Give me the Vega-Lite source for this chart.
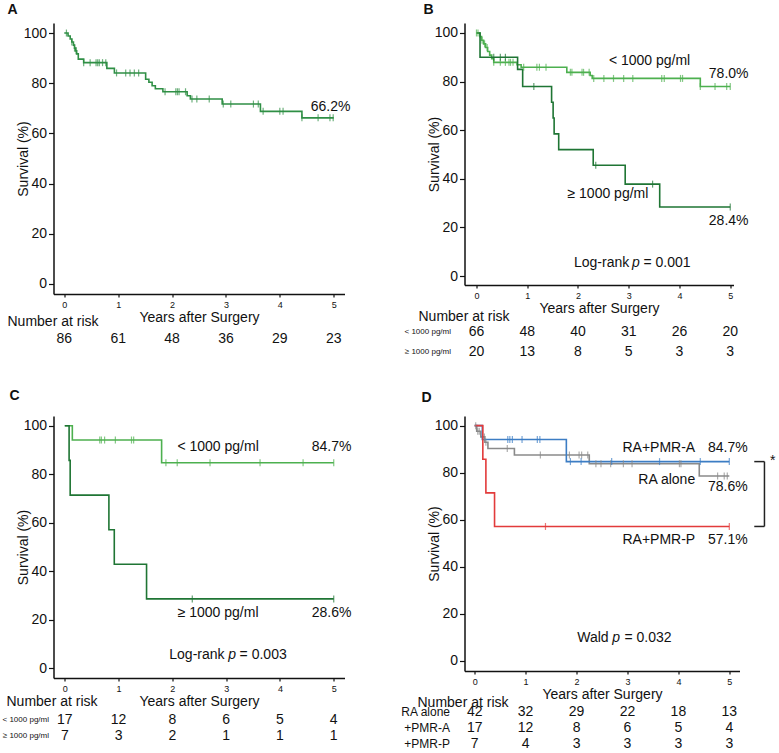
{
  "$schema": "https://vega.github.io/schema/vega-lite/v6.json",
  "padding": {"left": 1.5, "top": 3, "right": 0, "bottom": 0},
  "background": "white",
  "config": {
    "view": {"stroke": null},
    "font": "Liberation Sans",
    "text": {"font": "Liberation Sans", "fontSize": 14, "color": "#111"},
    "title": {"font": "Liberation Sans", "color": "#111"},
    "axis": {"grid": false, "domainColor": "#111", "domainWidth": 1.5, "tickColor": "#111", "tickWidth": 1.2, "labelColor": "#111", "titleColor": "#111", "labelFont": "Liberation Sans", "titleFont": "Liberation Sans", "titleFontWeight": "normal", "titleFontSize": 14}
  },
  "datasets": {
    "steps": [
      {"panel": "A", "group": "all", "t": 0, "s": 100}, {"panel": "A", "group": "all", "t": 0.07, "s": 98.8}, {"panel": "A", "group": "all", "t": 0.11, "s": 97.6}, {"panel": "A", "group": "all", "t": 0.14, "s": 96.4}, {"panel": "A", "group": "all", "t": 0.17, "s": 95.2}, {"panel": "A", "group": "all", "t": 0.19, "s": 94.0}, {"panel": "A", "group": "all", "t": 0.21, "s": 92.9}, {"panel": "A", "group": "all", "t": 0.23, "s": 91.7}, {"panel": "A", "group": "all", "t": 0.26, "s": 89.6}, {"panel": "A", "group": "all", "t": 0.36, "s": 88.2}, {"panel": "A", "group": "all", "t": 0.79, "s": 85.9}, {"panel": "A", "group": "all", "t": 0.93, "s": 84.1}, {"panel": "A", "group": "all", "t": 1.51, "s": 81.6}, {"panel": "A", "group": "all", "t": 1.57, "s": 80.4}, {"panel": "A", "group": "all", "t": 1.63, "s": 79.0}, {"panel": "A", "group": "all", "t": 1.69, "s": 77.8}, {"panel": "A", "group": "all", "t": 1.83, "s": 76.6}, {"panel": "A", "group": "all", "t": 2.28, "s": 75.0}, {"panel": "A", "group": "all", "t": 2.34, "s": 73.7}, {"panel": "A", "group": "all", "t": 2.93, "s": 71.7}, {"panel": "A", "group": "all", "t": 3.64, "s": 68.8}, {"panel": "A", "group": "all", "t": 4.41, "s": 66.2}, {"panel": "A", "group": "all", "t": 5.0, "s": 66.2},
      {"panel": "B", "group": "< 1000 pg/ml", "t": 0, "s": 100}, {"panel": "B", "group": "< 1000 pg/ml", "t": 0.07, "s": 98.5}, {"panel": "B", "group": "< 1000 pg/ml", "t": 0.10, "s": 97.0}, {"panel": "B", "group": "< 1000 pg/ml", "t": 0.14, "s": 95.5}, {"panel": "B", "group": "< 1000 pg/ml", "t": 0.18, "s": 94.0}, {"panel": "B", "group": "< 1000 pg/ml", "t": 0.22, "s": 92.4}, {"panel": "B", "group": "< 1000 pg/ml", "t": 0.26, "s": 90.9}, {"panel": "B", "group": "< 1000 pg/ml", "t": 0.30, "s": 89.4}, {"panel": "B", "group": "< 1000 pg/ml", "t": 0.34, "s": 87.9}, {"panel": "B", "group": "< 1000 pg/ml", "t": 0.80, "s": 86.9}, {"panel": "B", "group": "< 1000 pg/ml", "t": 0.88, "s": 85.9}, {"panel": "B", "group": "< 1000 pg/ml", "t": 1.78, "s": 83.8}, {"panel": "B", "group": "< 1000 pg/ml", "t": 2.24, "s": 82.5}, {"panel": "B", "group": "< 1000 pg/ml", "t": 2.28, "s": 81.3}, {"panel": "B", "group": "< 1000 pg/ml", "t": 4.41, "s": 78.0}, {"panel": "B", "group": "< 1000 pg/ml", "t": 5.0, "s": 78.0},
      {"panel": "B", "group": "≥ 1000 pg/ml", "t": 0, "s": 100}, {"panel": "B", "group": "≥ 1000 pg/ml", "t": 0.07, "s": 90}, {"panel": "B", "group": "≥ 1000 pg/ml", "t": 0.81, "s": 85}, {"panel": "B", "group": "≥ 1000 pg/ml", "t": 0.91, "s": 78}, {"panel": "B", "group": "≥ 1000 pg/ml", "t": 1.48, "s": 71.5}, {"panel": "B", "group": "≥ 1000 pg/ml", "t": 1.51, "s": 65}, {"panel": "B", "group": "≥ 1000 pg/ml", "t": 1.53, "s": 58.5}, {"panel": "B", "group": "≥ 1000 pg/ml", "t": 1.62, "s": 52}, {"panel": "B", "group": "≥ 1000 pg/ml", "t": 2.30, "s": 45.6}, {"panel": "B", "group": "≥ 1000 pg/ml", "t": 2.93, "s": 37.8}, {"panel": "B", "group": "≥ 1000 pg/ml", "t": 3.61, "s": 28.4}, {"panel": "B", "group": "≥ 1000 pg/ml", "t": 5.0, "s": 28.4},
      {"panel": "C", "group": "< 1000 pg/ml", "t": 0, "s": 100}, {"panel": "C", "group": "< 1000 pg/ml", "t": 0.14, "s": 94.1}, {"panel": "C", "group": "< 1000 pg/ml", "t": 1.80, "s": 84.7}, {"panel": "C", "group": "< 1000 pg/ml", "t": 5.0, "s": 84.7},
      {"panel": "C", "group": "≥ 1000 pg/ml", "t": 0, "s": 100}, {"panel": "C", "group": "≥ 1000 pg/ml", "t": 0.08, "s": 85.7}, {"panel": "C", "group": "≥ 1000 pg/ml", "t": 0.10, "s": 71.4}, {"panel": "C", "group": "≥ 1000 pg/ml", "t": 0.82, "s": 57.1}, {"panel": "C", "group": "≥ 1000 pg/ml", "t": 0.92, "s": 42.9}, {"panel": "C", "group": "≥ 1000 pg/ml", "t": 1.52, "s": 28.6}, {"panel": "C", "group": "≥ 1000 pg/ml", "t": 5.0, "s": 28.6},
      {"panel": "D", "group": "RA alone", "t": 0, "s": 100}, {"panel": "D", "group": "RA alone", "t": 0.04, "s": 97.6}, {"panel": "D", "group": "RA alone", "t": 0.12, "s": 95.2}, {"panel": "D", "group": "RA alone", "t": 0.20, "s": 92.9}, {"panel": "D", "group": "RA alone", "t": 0.26, "s": 90.3}, {"panel": "D", "group": "RA alone", "t": 0.78, "s": 87.5}, {"panel": "D", "group": "RA alone", "t": 2.25, "s": 83.8}, {"panel": "D", "group": "RA alone", "t": 4.41, "s": 78.6}, {"panel": "D", "group": "RA alone", "t": 5.0, "s": 78.6},
      {"panel": "D", "group": "+PMR-A", "t": 0, "s": 100}, {"panel": "D", "group": "+PMR-A", "t": 0.15, "s": 94.1}, {"panel": "D", "group": "+PMR-A", "t": 1.80, "s": 84.7}, {"panel": "D", "group": "+PMR-A", "t": 5.0, "s": 84.7},
      {"panel": "D", "group": "+PMR-P", "t": 0, "s": 100}, {"panel": "D", "group": "+PMR-P", "t": 0.16, "s": 85.7}, {"panel": "D", "group": "+PMR-P", "t": 0.22, "s": 71.4}, {"panel": "D", "group": "+PMR-P", "t": 0.39, "s": 57.1}, {"panel": "D", "group": "+PMR-P", "t": 5.0, "s": 57.1}
    ],
    "censors": [
      {"panel": "A", "group": "all", "t": 0.04, "s": 100}, {"panel": "A", "group": "all", "t": 0.14, "s": 96.4}, {"panel": "A", "group": "all", "t": 0.19, "s": 94.0}, {"panel": "A", "group": "all", "t": 0.22, "s": 92.9}, {"panel": "A", "group": "all", "t": 0.36, "s": 88.2}, {"panel": "A", "group": "all", "t": 0.48, "s": 88.2}, {"panel": "A", "group": "all", "t": 0.59, "s": 88.2}, {"panel": "A", "group": "all", "t": 0.62, "s": 88.2}, {"panel": "A", "group": "all", "t": 0.65, "s": 88.2}, {"panel": "A", "group": "all", "t": 0.71, "s": 88.2}, {"panel": "A", "group": "all", "t": 0.77, "s": 88.2}, {"panel": "A", "group": "all", "t": 0.97, "s": 84.1}, {"panel": "A", "group": "all", "t": 1.14, "s": 84.1}, {"panel": "A", "group": "all", "t": 1.22, "s": 84.1}, {"panel": "A", "group": "all", "t": 1.30, "s": 84.1}, {"panel": "A", "group": "all", "t": 1.38, "s": 84.1}, {"panel": "A", "group": "all", "t": 1.87, "s": 76.6}, {"panel": "A", "group": "all", "t": 2.07, "s": 76.6}, {"panel": "A", "group": "all", "t": 2.10, "s": 76.6}, {"panel": "A", "group": "all", "t": 2.13, "s": 76.6}, {"panel": "A", "group": "all", "t": 2.25, "s": 76.6}, {"panel": "A", "group": "all", "t": 2.37, "s": 73.7}, {"panel": "A", "group": "all", "t": 2.46, "s": 73.7}, {"panel": "A", "group": "all", "t": 2.69, "s": 73.7}, {"panel": "A", "group": "all", "t": 2.95, "s": 71.7}, {"panel": "A", "group": "all", "t": 3.09, "s": 71.7}, {"panel": "A", "group": "all", "t": 3.51, "s": 71.7}, {"panel": "A", "group": "all", "t": 3.60, "s": 71.7}, {"panel": "A", "group": "all", "t": 3.69, "s": 68.8}, {"panel": "A", "group": "all", "t": 4.00, "s": 68.8}, {"panel": "A", "group": "all", "t": 4.06, "s": 68.8}, {"panel": "A", "group": "all", "t": 4.41, "s": 66.2}, {"panel": "A", "group": "all", "t": 4.71, "s": 66.2}, {"panel": "A", "group": "all", "t": 4.93, "s": 66.2}, {"panel": "A", "group": "all", "t": 4.99, "s": 66.2},
      {"panel": "B", "group": "< 1000 pg/ml", "t": 0.0, "s": 100}, {"panel": "B", "group": "< 1000 pg/ml", "t": 0.03, "s": 100}, {"panel": "B", "group": "< 1000 pg/ml", "t": 0.11, "s": 97.0}, {"panel": "B", "group": "< 1000 pg/ml", "t": 0.16, "s": 95.5}, {"panel": "B", "group": "< 1000 pg/ml", "t": 0.21, "s": 94.0}, {"panel": "B", "group": "< 1000 pg/ml", "t": 0.34, "s": 87.9}, {"panel": "B", "group": "< 1000 pg/ml", "t": 0.47, "s": 87.9}, {"panel": "B", "group": "< 1000 pg/ml", "t": 0.57, "s": 87.9}, {"panel": "B", "group": "< 1000 pg/ml", "t": 0.64, "s": 87.9}, {"panel": "B", "group": "< 1000 pg/ml", "t": 0.67, "s": 87.9}, {"panel": "B", "group": "< 1000 pg/ml", "t": 0.72, "s": 87.9}, {"panel": "B", "group": "< 1000 pg/ml", "t": 0.93, "s": 85.9}, {"panel": "B", "group": "< 1000 pg/ml", "t": 1.19, "s": 85.9}, {"panel": "B", "group": "< 1000 pg/ml", "t": 1.24, "s": 85.9}, {"panel": "B", "group": "< 1000 pg/ml", "t": 1.37, "s": 85.9}, {"panel": "B", "group": "< 1000 pg/ml", "t": 1.85, "s": 83.8}, {"panel": "B", "group": "< 1000 pg/ml", "t": 1.88, "s": 83.8}, {"panel": "B", "group": "< 1000 pg/ml", "t": 2.08, "s": 83.8}, {"panel": "B", "group": "< 1000 pg/ml", "t": 2.11, "s": 83.8}, {"panel": "B", "group": "< 1000 pg/ml", "t": 2.22, "s": 83.8}, {"panel": "B", "group": "< 1000 pg/ml", "t": 2.31, "s": 81.3}, {"panel": "B", "group": "< 1000 pg/ml", "t": 2.51, "s": 81.3}, {"panel": "B", "group": "< 1000 pg/ml", "t": 2.70, "s": 81.3}, {"panel": "B", "group": "< 1000 pg/ml", "t": 2.90, "s": 81.3}, {"panel": "B", "group": "< 1000 pg/ml", "t": 3.08, "s": 81.3}, {"panel": "B", "group": "< 1000 pg/ml", "t": 3.65, "s": 81.3}, {"panel": "B", "group": "< 1000 pg/ml", "t": 3.70, "s": 81.3}, {"panel": "B", "group": "< 1000 pg/ml", "t": 4.02, "s": 81.3}, {"panel": "B", "group": "< 1000 pg/ml", "t": 4.06, "s": 81.3}, {"panel": "B", "group": "< 1000 pg/ml", "t": 4.41, "s": 78.0}, {"panel": "B", "group": "< 1000 pg/ml", "t": 4.70, "s": 78.0}, {"panel": "B", "group": "< 1000 pg/ml", "t": 4.93, "s": 78.0}, {"panel": "B", "group": "< 1000 pg/ml", "t": 5.0, "s": 78.0},
      {"panel": "B", "group": "≥ 1000 pg/ml", "t": 0.34, "s": 90}, {"panel": "B", "group": "≥ 1000 pg/ml", "t": 0.47, "s": 90}, {"panel": "B", "group": "≥ 1000 pg/ml", "t": 0.57, "s": 90}, {"panel": "B", "group": "≥ 1000 pg/ml", "t": 1.13, "s": 78}, {"panel": "B", "group": "≥ 1000 pg/ml", "t": 2.35, "s": 45.6}, {"panel": "B", "group": "≥ 1000 pg/ml", "t": 3.47, "s": 37.8}, {"panel": "B", "group": "≥ 1000 pg/ml", "t": 5.0, "s": 28.4},
      {"panel": "C", "group": "< 1000 pg/ml", "t": 0.65, "s": 94.1}, {"panel": "C", "group": "< 1000 pg/ml", "t": 0.68, "s": 94.1}, {"panel": "C", "group": "< 1000 pg/ml", "t": 0.74, "s": 94.1}, {"panel": "C", "group": "< 1000 pg/ml", "t": 0.94, "s": 94.1}, {"panel": "C", "group": "< 1000 pg/ml", "t": 1.24, "s": 94.1}, {"panel": "C", "group": "< 1000 pg/ml", "t": 1.28, "s": 94.1}, {"panel": "C", "group": "< 1000 pg/ml", "t": 1.88, "s": 84.7}, {"panel": "C", "group": "< 1000 pg/ml", "t": 2.09, "s": 84.7}, {"panel": "C", "group": "< 1000 pg/ml", "t": 2.70, "s": 84.7}, {"panel": "C", "group": "< 1000 pg/ml", "t": 3.63, "s": 84.7}, {"panel": "C", "group": "< 1000 pg/ml", "t": 4.43, "s": 84.7}, {"panel": "C", "group": "< 1000 pg/ml", "t": 5.0, "s": 84.7},
      {"panel": "C", "group": "≥ 1000 pg/ml", "t": 2.37, "s": 28.6}, {"panel": "C", "group": "≥ 1000 pg/ml", "t": 5.0, "s": 28.6},
      {"panel": "D", "group": "RA alone", "t": 0.02, "s": 100}, {"panel": "D", "group": "RA alone", "t": 0.06, "s": 97.6}, {"panel": "D", "group": "RA alone", "t": 0.09, "s": 97.6}, {"panel": "D", "group": "RA alone", "t": 0.19, "s": 95.2}, {"panel": "D", "group": "RA alone", "t": 0.22, "s": 92.9}, {"panel": "D", "group": "RA alone", "t": 0.64, "s": 90.3}, {"panel": "D", "group": "RA alone", "t": 1.29, "s": 87.5}, {"panel": "D", "group": "RA alone", "t": 1.86, "s": 87.5}, {"panel": "D", "group": "RA alone", "t": 2.05, "s": 87.5}, {"panel": "D", "group": "RA alone", "t": 2.10, "s": 87.5}, {"panel": "D", "group": "RA alone", "t": 2.22, "s": 87.5}, {"panel": "D", "group": "RA alone", "t": 2.38, "s": 83.8}, {"panel": "D", "group": "RA alone", "t": 2.48, "s": 83.8}, {"panel": "D", "group": "RA alone", "t": 2.67, "s": 83.8}, {"panel": "D", "group": "RA alone", "t": 2.92, "s": 83.8}, {"panel": "D", "group": "RA alone", "t": 3.09, "s": 83.8}, {"panel": "D", "group": "RA alone", "t": 4.02, "s": 83.8}, {"panel": "D", "group": "RA alone", "t": 4.05, "s": 83.8}, {"panel": "D", "group": "RA alone", "t": 4.77, "s": 78.6}, {"panel": "D", "group": "RA alone", "t": 4.90, "s": 78.6}, {"panel": "D", "group": "RA alone", "t": 4.96, "s": 78.6},
      {"panel": "D", "group": "+PMR-A", "t": 0.65, "s": 94.1}, {"panel": "D", "group": "+PMR-A", "t": 0.69, "s": 94.1}, {"panel": "D", "group": "+PMR-A", "t": 0.74, "s": 94.1}, {"panel": "D", "group": "+PMR-A", "t": 0.93, "s": 94.1}, {"panel": "D", "group": "+PMR-A", "t": 1.23, "s": 94.1}, {"panel": "D", "group": "+PMR-A", "t": 1.28, "s": 94.1}, {"panel": "D", "group": "+PMR-A", "t": 1.88, "s": 84.7}, {"panel": "D", "group": "+PMR-A", "t": 2.09, "s": 84.7}, {"panel": "D", "group": "+PMR-A", "t": 2.69, "s": 84.7}, {"panel": "D", "group": "+PMR-A", "t": 3.63, "s": 84.7}, {"panel": "D", "group": "+PMR-A", "t": 4.43, "s": 84.7}, {"panel": "D", "group": "+PMR-A", "t": 5.0, "s": 84.7},
      {"panel": "D", "group": "+PMR-P", "t": 1.39, "s": 57.1}, {"panel": "D", "group": "+PMR-P", "t": 5.0, "s": 57.1}
    ],
    "risk": [
      {"panel": "A", "group": "all", "t": 0, "n": 86}, {"panel": "A", "group": "all", "t": 1, "n": 61}, {"panel": "A", "group": "all", "t": 2, "n": 48}, {"panel": "A", "group": "all", "t": 3, "n": 36}, {"panel": "A", "group": "all", "t": 4, "n": 29}, {"panel": "A", "group": "all", "t": 5, "n": 23},
      {"panel": "B", "group": "< 1000 pg/ml", "t": 0, "n": 66}, {"panel": "B", "group": "< 1000 pg/ml", "t": 1, "n": 48}, {"panel": "B", "group": "< 1000 pg/ml", "t": 2, "n": 40}, {"panel": "B", "group": "< 1000 pg/ml", "t": 3, "n": 31}, {"panel": "B", "group": "< 1000 pg/ml", "t": 4, "n": 26}, {"panel": "B", "group": "< 1000 pg/ml", "t": 5, "n": 20},
      {"panel": "B", "group": "≥ 1000 pg/ml", "t": 0, "n": 20}, {"panel": "B", "group": "≥ 1000 pg/ml", "t": 1, "n": 13}, {"panel": "B", "group": "≥ 1000 pg/ml", "t": 2, "n": 8}, {"panel": "B", "group": "≥ 1000 pg/ml", "t": 3, "n": 5}, {"panel": "B", "group": "≥ 1000 pg/ml", "t": 4, "n": 3}, {"panel": "B", "group": "≥ 1000 pg/ml", "t": 5, "n": 3},
      {"panel": "C", "group": "< 1000 pg/ml", "t": 0, "n": 17}, {"panel": "C", "group": "< 1000 pg/ml", "t": 1, "n": 12}, {"panel": "C", "group": "< 1000 pg/ml", "t": 2, "n": 8}, {"panel": "C", "group": "< 1000 pg/ml", "t": 3, "n": 6}, {"panel": "C", "group": "< 1000 pg/ml", "t": 4, "n": 5}, {"panel": "C", "group": "< 1000 pg/ml", "t": 5, "n": 4},
      {"panel": "C", "group": "≥ 1000 pg/ml", "t": 0, "n": 7}, {"panel": "C", "group": "≥ 1000 pg/ml", "t": 1, "n": 3}, {"panel": "C", "group": "≥ 1000 pg/ml", "t": 2, "n": 2}, {"panel": "C", "group": "≥ 1000 pg/ml", "t": 3, "n": 1}, {"panel": "C", "group": "≥ 1000 pg/ml", "t": 4, "n": 1}, {"panel": "C", "group": "≥ 1000 pg/ml", "t": 5, "n": 1},
      {"panel": "D", "group": "RA alone", "t": 0, "n": 42}, {"panel": "D", "group": "RA alone", "t": 1, "n": 32}, {"panel": "D", "group": "RA alone", "t": 2, "n": 29}, {"panel": "D", "group": "RA alone", "t": 3, "n": 22}, {"panel": "D", "group": "RA alone", "t": 4, "n": 18}, {"panel": "D", "group": "RA alone", "t": 5, "n": 13},
      {"panel": "D", "group": "+PMR-A", "t": 0, "n": 17}, {"panel": "D", "group": "+PMR-A", "t": 1, "n": 12}, {"panel": "D", "group": "+PMR-A", "t": 2, "n": 8}, {"panel": "D", "group": "+PMR-A", "t": 3, "n": 6}, {"panel": "D", "group": "+PMR-A", "t": 4, "n": 5}, {"panel": "D", "group": "+PMR-A", "t": 5, "n": 4},
      {"panel": "D", "group": "+PMR-P", "t": 0, "n": 7}, {"panel": "D", "group": "+PMR-P", "t": 1, "n": 4}, {"panel": "D", "group": "+PMR-P", "t": 2, "n": 3}, {"panel": "D", "group": "+PMR-P", "t": 3, "n": 3}, {"panel": "D", "group": "+PMR-P", "t": 4, "n": 3}, {"panel": "D", "group": "+PMR-P", "t": 5, "n": 3}
    ]
  },
  "columns": 2,
  "align": "none",
  "bounds": "flush",
  "spacing": {"row": 20, "column": 120},
  "resolve": {"scale": {"x": "independent", "y": "independent", "color": "independent"}},
  "concat": [
    {
      "width": 291, "height": 271,
      "title": {"text": "A", "anchor": "start", "frame": "group", "dx": -46, "offset": 6, "fontSize": 14, "fontWeight": "bold"},
      "layer": [
        {"data": {"name": "steps"}, "transform": [{"filter": "datum.panel === 'A'"}],
         "mark": {"type": "line", "interpolate": "step-after", "strokeWidth": 1.6},
         "encoding": {
           "x": {"field": "t", "type": "quantitative", "scale": {"domain": [-0.2, 5.2], "nice": false, "zero": false}, "axis": {"values": [0, 1, 2, 3, 4, 5], "title": "Years after Surgery", "labelFontSize": 9, "tickSize": 3, "labelPadding": 3, "titlePadding": 1, "labelFlush": false, "format": "d"}},
           "y": {"field": "s", "type": "quantitative", "scale": {"domain": [-4, 104], "nice": false, "zero": false}, "axis": {"values": [0, 20, 40, 60, 80, 100], "title": "Survival (%)", "labelFontSize": 14, "tickSize": 5, "labelPadding": 2, "titlePadding": -7}},
           "color": {"field": "group", "type": "nominal", "scale": {"domain": ["all"], "range": ["#2f8f45"]}, "legend": null}
         }},
        {"data": {"name": "censors"}, "transform": [{"filter": "datum.panel === 'A'"}],
         "mark": {"type": "tick", "orient": "vertical", "size": 7, "thickness": 1.2},
         "encoding": {"x": {"field": "t", "type": "quantitative"}, "y": {"field": "s", "type": "quantitative"}, "color": {"field": "group", "type": "nominal"}}},
        {"data": {"values": [{}]}, "mark": {"type": "text", "align": "right", "baseline": "middle"},
         "encoding": {"x": {"datum": 5.31}, "y": {"datum": 70.5}, "text": {"value": "66.2%"}}}
      ]
    },
    {
      "width": 269, "height": 262,
      "title": {"text": "B", "anchor": "start", "frame": "group", "dx": -41, "offset": 6, "fontSize": 14, "fontWeight": "bold"},
      "layer": [
        {"data": {"name": "steps"}, "transform": [{"filter": "datum.panel === 'B'"}],
         "mark": {"type": "line", "interpolate": "step-after", "strokeWidth": 1.6},
         "encoding": {
           "x": {"field": "t", "type": "quantitative", "scale": {"domain": [-0.236, 5.064], "nice": false, "zero": false}, "axis": {"values": [0, 1, 2, 3, 4, 5], "title": "Years after Surgery", "labelFontSize": 9, "tickSize": 3, "labelPadding": 3, "titlePadding": 1, "labelFlush": false, "format": "d"}},
           "y": {"field": "s", "type": "quantitative", "scale": {"domain": [-3.7, 104.1], "nice": false, "zero": false}, "axis": {"values": [0, 20, 40, 60, 80, 100], "title": "Survival (%)", "labelFontSize": 14, "tickSize": 5, "labelPadding": 2, "titlePadding": -7}},
           "color": {"field": "group", "type": "nominal", "scale": {"domain": ["< 1000 pg/ml", "≥ 1000 pg/ml"], "range": ["#4db04f", "#1f7534"]}, "legend": null}
         }},
        {"data": {"name": "censors"}, "transform": [{"filter": "datum.panel === 'B'"}],
         "mark": {"type": "tick", "orient": "vertical", "size": 7, "thickness": 1.2},
         "encoding": {"x": {"field": "t", "type": "quantitative"}, "y": {"field": "s", "type": "quantitative"}, "color": {"field": "group", "type": "nominal"}}},
        {"data": {"values": [{}]}, "mark": {"type": "text", "align": "center", "baseline": "middle"},
         "encoding": {"x": {"datum": 3.41}, "y": {"datum": 88.5}, "text": {"value": "< 1000 pg/ml"}}},
        {"data": {"values": [{}]}, "mark": {"type": "text", "align": "right", "baseline": "middle"},
         "encoding": {"x": {"datum": 5.36}, "y": {"datum": 83.1}, "text": {"value": "78.0%"}}},
        {"data": {"values": [{}]}, "mark": {"type": "text", "align": "center", "baseline": "middle"},
         "encoding": {"x": {"datum": 2.59}, "y": {"datum": 33.7}, "text": {"value": "≥ 1000 pg/ml"}}},
        {"data": {"values": [{}]}, "mark": {"type": "text", "align": "right", "baseline": "middle"},
         "encoding": {"x": {"datum": 5.36}, "y": {"datum": 22.8}, "text": {"value": "28.4%"}}},
        {"data": {"values": [{}]}, "mark": {"type": "text", "align": "right", "baseline": "middle"},
         "encoding": {"x": {"datum": 3.01}, "y": {"datum": 5.3}, "text": {"value": "Log-rank"}}},
        {"data": {"values": [{}]}, "mark": {"type": "text", "align": "center", "baseline": "middle", "fontStyle": "italic"},
         "encoding": {"x": {"datum": 3.14}, "y": {"datum": 5.3}, "text": {"value": "p"}}},
        {"data": {"values": [{}]}, "mark": {"type": "text", "align": "left", "baseline": "middle"},
         "encoding": {"x": {"datum": 3.29}, "y": {"datum": 5.3}, "text": {"value": "= 0.001"}}}
      ]
    },
    {
      "width": 291, "height": 82,
      "title": {"text": "Number at risk", "anchor": "start", "frame": "group", "dx": -46, "offset": -15, "fontSize": 14, "fontWeight": "normal"},
      "data": {"name": "risk"}, "transform": [{"filter": "datum.panel === 'A'"}],
      "mark": {"type": "text", "baseline": "middle"},
      "encoding": {
        "x": {"field": "t", "type": "quantitative", "scale": {"domain": [-0.2, 5.2], "nice": false, "zero": false}, "axis": null},
        "y": {"field": "group", "type": "nominal", "scale": {"type": "band", "paddingInner": 0, "paddingOuter": 2.0625, "align": 0.2121}, "axis": null},
        "text": {"field": "n", "type": "quantitative"}
      }
    },
    {
      "width": 269, "height": 82,
      "title": {"text": "Number at risk", "anchor": "start", "frame": "group", "dx": -46, "offset": -10, "fontSize": 14, "fontWeight": "normal"},
      "data": {"name": "risk"}, "transform": [{"filter": "datum.panel === 'B'"}],
      "mark": {"type": "text", "baseline": "middle"},
      "encoding": {
        "x": {"field": "t", "type": "quantitative", "scale": {"domain": [-0.236, 5.064], "nice": false, "zero": false}, "axis": null},
        "y": {"field": "group", "type": "nominal", "sort": ["< 1000 pg/ml", "≥ 1000 pg/ml"], "scale": {"type": "band", "paddingInner": 0, "paddingOuter": 1.5625, "align": 0.18}, "axis": {"title": null, "domain": false, "ticks": false, "labelFont": "Liberation Sans", "labelFontSize": 8, "labelPadding": 14}},
        "text": {"field": "n", "type": "quantitative"}
      }
    },
    {
      "width": 291, "height": 262,
      "title": {"text": "C", "anchor": "start", "frame": "group", "dx": -44, "offset": 13, "fontSize": 14, "fontWeight": "bold"},
      "layer": [
        {"data": {"name": "steps"}, "transform": [{"filter": "datum.panel === 'C'"}],
         "mark": {"type": "line", "interpolate": "step-after", "strokeWidth": 1.6},
         "encoding": {
           "x": {"field": "t", "type": "quantitative", "scale": {"domain": [-0.21, 5.2], "nice": false, "zero": false}, "axis": {"values": [0, 1, 2, 3, 4, 5], "title": "Years after Surgery", "labelFontSize": 9, "tickSize": 3, "labelPadding": 3, "titlePadding": 1, "labelFlush": false, "format": "d"}},
           "y": {"field": "s", "type": "quantitative", "scale": {"domain": [-4, 104], "nice": false, "zero": false}, "axis": {"values": [0, 20, 40, 60, 80, 100], "title": "Survival (%)", "labelFontSize": 14, "tickSize": 5, "labelPadding": 2, "titlePadding": -7}},
           "color": {"field": "group", "type": "nominal", "scale": {"domain": ["< 1000 pg/ml", "≥ 1000 pg/ml"], "range": ["#4db04f", "#1f7534"]}, "legend": null}
         }},
        {"data": {"name": "censors"}, "transform": [{"filter": "datum.panel === 'C'"}],
         "mark": {"type": "tick", "orient": "vertical", "size": 7, "thickness": 1.2},
         "encoding": {"x": {"field": "t", "type": "quantitative"}, "y": {"field": "s", "type": "quantitative"}, "color": {"field": "group", "type": "nominal"}}},
        {"data": {"values": [{}]}, "mark": {"type": "text", "align": "center", "baseline": "middle"},
         "encoding": {"x": {"datum": 2.85}, "y": {"datum": 91.1}, "text": {"value": "< 1000 pg/ml"}}},
        {"data": {"values": [{}]}, "mark": {"type": "text", "align": "right", "baseline": "middle"},
         "encoding": {"x": {"datum": 5.33}, "y": {"datum": 91.1}, "text": {"value": "84.7%"}}},
        {"data": {"values": [{}]}, "mark": {"type": "text", "align": "center", "baseline": "middle"},
         "encoding": {"x": {"datum": 2.85}, "y": {"datum": 22.7}, "text": {"value": "≥ 1000 pg/ml"}}},
        {"data": {"values": [{}]}, "mark": {"type": "text", "align": "right", "baseline": "middle"},
         "encoding": {"x": {"datum": 5.33}, "y": {"datum": 22.7}, "text": {"value": "28.6%"}}},
        {"data": {"values": [{}]}, "mark": {"type": "text", "align": "right", "baseline": "middle"},
         "encoding": {"x": {"datum": 2.97}, "y": {"datum": 5.5}, "text": {"value": "Log-rank"}}},
        {"data": {"values": [{}]}, "mark": {"type": "text", "align": "center", "baseline": "middle", "fontStyle": "italic"},
         "encoding": {"x": {"datum": 3.11}, "y": {"datum": 5.5}, "text": {"value": "p"}}},
        {"data": {"values": [{}]}, "mark": {"type": "text", "align": "left", "baseline": "middle"},
         "encoding": {"x": {"datum": 3.25}, "y": {"datum": 5.5}, "text": {"value": "= 0.003"}}}
      ]
    },
    {
      "width": 275, "height": 255,
      "title": {"text": "D", "anchor": "start", "frame": "group", "dx": -43, "offset": 11, "fontSize": 14, "fontWeight": "bold"},
      "layer": [
        {"data": {"name": "steps"}, "transform": [{"filter": "datum.panel === 'D'"}],
         "mark": {"type": "line", "interpolate": "step-after", "strokeWidth": 1.6},
         "encoding": {
           "x": {"field": "t", "type": "quantitative", "scale": {"domain": [-0.2, 5.2], "nice": false, "zero": false}, "axis": {"values": [0, 1, 2, 3, 4, 5], "title": "Years after Surgery", "labelFontSize": 9, "tickSize": 3, "labelPadding": 3, "titlePadding": 1, "labelFlush": false, "format": "d"}},
           "y": {"field": "s", "type": "quantitative", "scale": {"domain": [-4.4, 104.1], "nice": false, "zero": false}, "axis": {"values": [0, 20, 40, 60, 80, 100], "title": "Survival (%)", "labelFontSize": 14, "tickSize": 5, "labelPadding": 2, "titlePadding": -7}},
           "color": {"field": "group", "type": "nominal", "scale": {"domain": ["RA alone", "+PMR-A", "+PMR-P"], "range": ["#8a8a8a", "#3c7dc4", "#e23b3b"]}, "legend": null}
         }},
        {"data": {"name": "censors"}, "transform": [{"filter": "datum.panel === 'D'"}],
         "mark": {"type": "tick", "orient": "vertical", "size": 7, "thickness": 1.2},
         "encoding": {"x": {"field": "t", "type": "quantitative"}, "y": {"field": "s", "type": "quantitative"}, "color": {"field": "group", "type": "nominal"}}},
        {"data": {"values": [{}]}, "mark": {"type": "text", "align": "right", "baseline": "middle"},
         "encoding": {"x": {"datum": 4.33}, "y": {"datum": 90.5}, "text": {"value": "RA+PMR-A"}}},
        {"data": {"values": [{}]}, "mark": {"type": "text", "align": "right", "baseline": "middle"},
         "encoding": {"x": {"datum": 5.36}, "y": {"datum": 90.5}, "text": {"value": "84.7%"}}},
        {"data": {"values": [{}]}, "mark": {"type": "text", "align": "right", "baseline": "middle"},
         "encoding": {"x": {"datum": 4.33}, "y": {"datum": 77.0}, "text": {"value": "RA alone"}}},
        {"data": {"values": [{}]}, "mark": {"type": "text", "align": "right", "baseline": "middle"},
         "encoding": {"x": {"datum": 5.36}, "y": {"datum": 73.8}, "text": {"value": "78.6%"}}},
        {"data": {"values": [{}]}, "mark": {"type": "text", "align": "right", "baseline": "middle"},
         "encoding": {"x": {"datum": 4.33}, "y": {"datum": 51.5}, "text": {"value": "RA+PMR-P"}}},
        {"data": {"values": [{}]}, "mark": {"type": "text", "align": "right", "baseline": "middle"},
         "encoding": {"x": {"datum": 5.36}, "y": {"datum": 51.5}, "text": {"value": "57.1%"}}},
        {"data": {"values": [{}]}, "mark": {"type": "text", "align": "right", "baseline": "middle"},
         "encoding": {"x": {"datum": 2.63}, "y": {"datum": 9.5}, "text": {"value": "Wald"}}},
        {"data": {"values": [{}]}, "mark": {"type": "text", "align": "center", "baseline": "middle", "fontStyle": "italic"},
         "encoding": {"x": {"datum": 2.78}, "y": {"datum": 9.5}, "text": {"value": "p"}}},
        {"data": {"values": [{}]}, "mark": {"type": "text", "align": "left", "baseline": "middle"},
         "encoding": {"x": {"datum": 2.94}, "y": {"datum": 9.5}, "text": {"value": "= 0.032"}}},
        {"data": {"values": [{}]}, "mark": {"type": "rule", "color": "#222", "strokeWidth": 1.5},
         "encoding": {"x": {"datum": 5.69}, "y": {"datum": 84.7}, "y2": {"datum": 57.1}}},
        {"data": {"values": [{}]}, "mark": {"type": "rule", "color": "#222", "strokeWidth": 1.5},
         "encoding": {"x": {"datum": 5.49}, "x2": {"datum": 5.69}, "y": {"datum": 84.7}}},
        {"data": {"values": [{}]}, "mark": {"type": "rule", "color": "#222", "strokeWidth": 1.5},
         "encoding": {"x": {"datum": 5.49}, "x2": {"datum": 5.69}, "y": {"datum": 57.1}}},
        {"data": {"values": [{}]}, "mark": {"type": "text", "align": "center", "baseline": "middle"},
         "encoding": {"x": {"datum": 5.85}, "y": {"datum": 85.1}, "text": {"value": "*"}}}
      ]
    },
    {
      "width": 291, "height": 54,
      "title": {"text": "Number at risk", "anchor": "start", "frame": "group", "dx": -47, "offset": -11, "fontSize": 14, "fontWeight": "normal"},
      "data": {"name": "risk"}, "transform": [{"filter": "datum.panel === 'C'"}],
      "mark": {"type": "text", "baseline": "middle"},
      "encoding": {
        "x": {"field": "t", "type": "quantitative", "scale": {"domain": [-0.21, 5.2], "nice": false, "zero": false}, "axis": null},
        "y": {"field": "group", "type": "nominal", "sort": ["< 1000 pg/ml", "≥ 1000 pg/ml"], "scale": {"type": "band", "paddingInner": 0, "paddingOuter": 0.6875, "align": 0.636}, "axis": {"title": null, "domain": false, "ticks": false, "labelFont": "Liberation Sans", "labelFontSize": 8, "labelPadding": 5}},
        "text": {"field": "n", "type": "quantitative"}
      }
    },
    {
      "width": 275, "height": 54,
      "title": {"text": "Number at risk", "anchor": "start", "frame": "group", "dx": -47, "offset": -12, "fontSize": 14, "fontWeight": "normal"},
      "data": {"name": "risk"}, "transform": [{"filter": "datum.panel === 'D'"}],
      "mark": {"type": "text", "baseline": "middle"},
      "encoding": {
        "x": {"field": "t", "type": "quantitative", "scale": {"domain": [-0.2, 5.2], "nice": false, "zero": false}, "axis": null},
        "y": {"field": "group", "type": "nominal", "sort": ["RA alone", "+PMR-A", "+PMR-P"], "scale": {"type": "band", "paddingInner": 0, "paddingOuter": 0.1875, "align": 1}, "axis": {"title": null, "domain": false, "ticks": false, "labelFont": "Liberation Sans", "labelFontSize": 12, "labelPadding": 15}},
        "text": {"field": "n", "type": "quantitative"}
      }
    }
  ]
}
